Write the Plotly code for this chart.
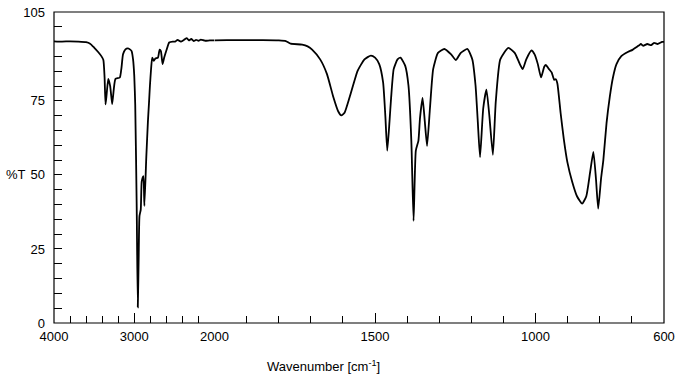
import plotly.graph_objects as go

# Spectrum data (wavenumber in cm-1, %T)
wavenumber = [4000, 3900, 3800, 3700, 3600, 3550, 3500, 3450, 3410, 3385, 3370, 3358, 3345,
              3324, 3300, 3275, 3255, 3234, 3180, 3160, 3140, 3110, 3078, 3050, 3033, 3015,
              3000, 2988, 2970, 2956, 2945, 2935, 2919, 2907, 2886, 2874, 2850, 2830, 2816,
              2805, 2790, 2776, 2756, 2737, 2705, 2684, 2668, 2647, 2627, 2594, 2565, 2520,
              2492, 2460, 2420, 2380, 2345, 2320, 2290, 2260, 2230, 2200, 2170, 2120, 2060,
              2000,
              1961, 1900, 1850, 1800, 1778, 1763, 1727, 1710, 1696, 1671, 1650, 1630, 1615,
              1605, 1595, 1579, 1554, 1533, 1513, 1500, 1487, 1475, 1468, 1462, 1455, 1450,
              1442, 1430, 1421, 1406, 1396, 1387, 1380, 1373, 1365, 1360, 1352, 1345, 1338,
              1329, 1319, 1304, 1284, 1263, 1248, 1233, 1212, 1197, 1187, 1180, 1173, 1163,
              1153, 1144, 1133, 1124, 1110, 1085, 1065, 1049, 1040, 1029, 1013, 1003, 993,
              983, 973, 968, 958, 950, 942, 937, 932, 922, 912, 901, 886, 871, 855, 842, 830,
              820, 812, 805, 796, 789, 779, 769, 759, 748, 733, 713, 698, 685, 677, 672, 665,
              652, 640, 631, 620, 606, 600]
transmittance = [95.1, 95.0, 95.1, 95.0, 94.8, 94.3, 93.0, 91.5, 90.1, 88.8, 83.0, 73.8, 77.0,
                 82.4, 80.0, 73.9, 79.0, 82.4, 82.9, 86.0, 90.7, 92.4, 92.7, 92.3, 91.8, 89.0,
                 83.5, 73.6, 40.0, 5.3, 22.0, 36.1, 38.3, 47.8, 49.6, 39.5, 56.0, 68.0, 74.5,
                 80.0, 86.0, 89.6, 88.5, 89.3, 89.6, 92.3, 91.8, 87.4, 89.6, 92.5, 94.7, 95.0,
                 95.0, 95.6, 95.0, 95.6, 96.2, 95.4, 95.9, 95.2, 95.6, 95.3, 95.7, 95.3, 95.4,
                 95.4,
                 95.5, 95.5, 95.5, 95.4, 95.2, 94.3, 94.0, 93.4, 92.3, 89.0, 84.1, 76.3, 71.5,
                 70.1, 71.0, 76.3, 85.2, 89.0, 90.3, 89.6, 87.4, 81.3, 70.0, 58.2, 68.0, 76.0,
                 85.7, 89.0, 89.6, 86.8, 80.2, 61.5, 34.5, 58.2, 61.5, 69.2, 76.0, 68.0, 59.8,
                 72.5, 85.7, 91.2, 92.5, 90.7, 88.8, 91.2, 92.5, 89.0, 80.2, 68.0, 56.0, 72.5,
                 78.8, 70.0, 56.8, 74.7, 89.0, 92.9, 91.2, 87.4, 85.7, 89.0, 92.0, 90.7, 87.4,
                 82.9, 86.5, 87.1, 85.7, 84.6, 82.1, 82.3, 80.8, 70.9, 62.0, 54.3, 47.7, 42.8, 40.3, 42.8, 51.0,
                 57.8, 48.8, 38.6, 48.8, 54.9, 67.5, 76.3, 82.9, 87.4, 90.1, 91.5, 92.2, 93.2, 93.8, 94.2, 93.6,
                 94.2, 93.8, 94.6, 94.2, 94.9, 94.9]

x_ticks_high = [4000, 3000, 2000]
x_ticks_low = [1500, 1000, 600]
y_ticks = [0, 25, 50, 75, 105]

SPLIT = 2000
hi = [(w, t) for w, t in zip(wavenumber, transmittance) if w >= SPLIT]
lo = [(w, t) for w, t in zip(wavenumber, transmittance) if w <= SPLIT]

d = (4000 - 2000) / ((4000 - 2000) + 4 * (2000 - 600))

fig = go.Figure()
fig.add_trace(go.Scatter(x=[p[0] for p in hi], y=[p[1] for p in hi], mode="lines",
                         line=dict(color="black", width=1.8, shape="spline", smoothing=0.5),
                         xaxis="x", yaxis="y", showlegend=False, hoverinfo="skip"))
fig.add_trace(go.Scatter(x=[p[0] for p in lo], y=[p[1] for p in lo], mode="lines",
                         line=dict(color="black", width=1.8, shape="spline", smoothing=0.5),
                         xaxis="x2", yaxis="y", showlegend=False, hoverinfo="skip"))

font = dict(family="Liberation Sans, Arial, sans-serif", size=13, color="black")
fig.update_layout(
    width=683, height=375,
    margin=dict(l=54, r=9, t=5, b=52),
    paper_bgcolor="white", plot_bgcolor="white",
    font=font,
    xaxis=dict(domain=[0, d], range=[4000, 2000], tickmode="array", tickvals=x_ticks_high,
               ticks="inside", ticklen=10, tickwidth=1, tickcolor="black",
               minor=dict(tickmode="linear", tick0=0, dtick=200, ticks="inside", ticklen=7,
                          tickwidth=1, tickcolor="black"),
               showgrid=False, zeroline=False, showline=False, anchor="y",
               ticklabelstandoff=4, ticklabeloverflow="allow"),
    xaxis2=dict(domain=[d, 1], range=[2000, 600], tickmode="array", tickvals=x_ticks_low,
                ticks="inside", ticklen=10, tickwidth=1, tickcolor="black",
                minor=dict(tickmode="linear", tick0=0, dtick=100, ticks="inside", ticklen=7,
                           tickwidth=1, tickcolor="black"),
                showgrid=False, zeroline=False, showline=False, anchor="y",
                ticklabelstandoff=4, ticklabeloverflow="allow"),
    yaxis=dict(range=[0, 105], tickmode="array", tickvals=y_ticks,
               ticks="inside", ticklen=8, tickwidth=1, tickcolor="black",
               minor=dict(tickmode="linear", tick0=0, dtick=5, ticks="inside", ticklen=8,
                          tickwidth=1, tickcolor="black"),
               showgrid=False, zeroline=False, showline=False, anchor="x",
               ticklabelstandoff=8, ticklabeloverflow="allow"),
    shapes=[dict(type="rect", xref="paper", yref="paper", x0=0, x1=1, y0=0, y1=1,
                 line=dict(color="black", width=1.2))],
    annotations=[
        dict(text="%T", xref="paper", yref="y", x=-0.042, y=50, xanchor="right",
             yanchor="middle", showarrow=False, font=font),
        dict(text="Wavenumber [cm<sup>-1</sup>]", xref="paper", yref="paper",
             x=(328.5 - 54) / 620.5, y=-0.138, xanchor="center", yanchor="middle",
             showarrow=False, font=font),
    ],
)

fig.write_html("out.html", config={"displayModeBar": False},
               post_script="document.body.style.margin='0px';")
